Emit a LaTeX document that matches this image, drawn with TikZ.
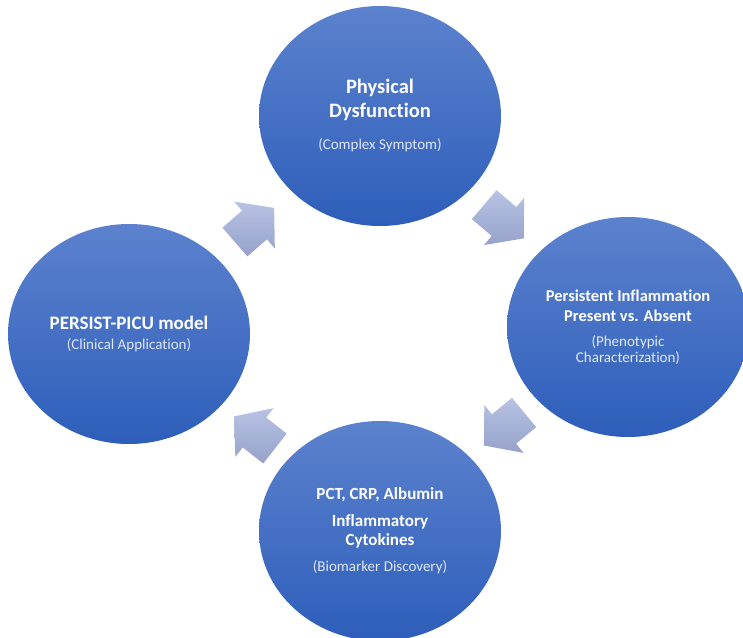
\documentclass[tikz,border=0pt]{standalone}
\usepackage{fontspec}
\setmainfont{Carlito}[Ligatures=NoCommon]
\usetikzlibrary{shapes.geometric,positioning}

\definecolor{discTop}{RGB}{92,130,206}
\definecolor{discBot}{RGB}{46,94,186}
\definecolor{arrTop}{RGB}{184,194,228}
\definecolor{arrBot}{RGB}{150,162,202}
\definecolor{subText}{RGB}{224,231,246}

\tikzset{
  disc/.style={ellipse, minimum width=242pt, minimum height=220pt, inner sep=0pt,
    top color=discTop, bottom color=discBot, text=white, align=center},
  arrowfill/.style={top color=arrTop, bottom color=arrBot, draw=none},
  cyclearrow/.pic={
    \path[arrowfill] (-26,-19) -- (0,-19) -- (0,-31) -- (26,0) -- (0,31) -- (0,19) -- (-26,19) -- cycle;
  },
}
\newcommand{\subfont}{\fontsize{15}{17}\selectfont\mdseries\color{subText}}

\begin{document}
\begin{tikzpicture}[x=1pt,y=1pt]
		\useasboundingbox (0,0) rectangle (743,637);
		\clip (0,0) rectangle (743,637);
		% the four stages
		\node[disc, font=\fontsize{20.5}{24}\selectfont\bfseries] (physical) at (380,521)
			{Physical\\Dysfunction\\[8pt]{\subfont(Complex Symptom)}};
		\node[disc, font=\fontsize{16.5}{20}\selectfont\bfseries] (inflammation) at (628,310)
			{Persistent Inflammation\\Present vs. Absent\\[5pt]{\subfont(Phenotypic}\\[-4pt]{\subfont Characterization)}};
		\node[disc, font=\fontsize{17}{19}\selectfont\bfseries] (biomarker) at (380,106)
			{PCT, CRP, Albumin\\[8pt]Inflammatory\\Cytokines\\[7pt]{\subfont(Biomarker Discovery)}};
		\node[disc, font=\fontsize{19}{20}\selectfont\bfseries] (persist) at (129,303)
			{PERSIST-PICU model\\{\subfont(Clinical Application)}};
		% block arrows between stages
		\path (persist.center) -- pic[sloped, allow upside down] {cyclearrow} (physical.center);
		\path (physical.center) -- pic[sloped, allow upside down] {cyclearrow} (inflammation.center);
		\path (inflammation.center) -- pic[sloped, allow upside down] {cyclearrow} (biomarker.center);
		\path (biomarker.center) -- pic[sloped, allow upside down] {cyclearrow} (persist.center);
\end{tikzpicture}
\end{document}
